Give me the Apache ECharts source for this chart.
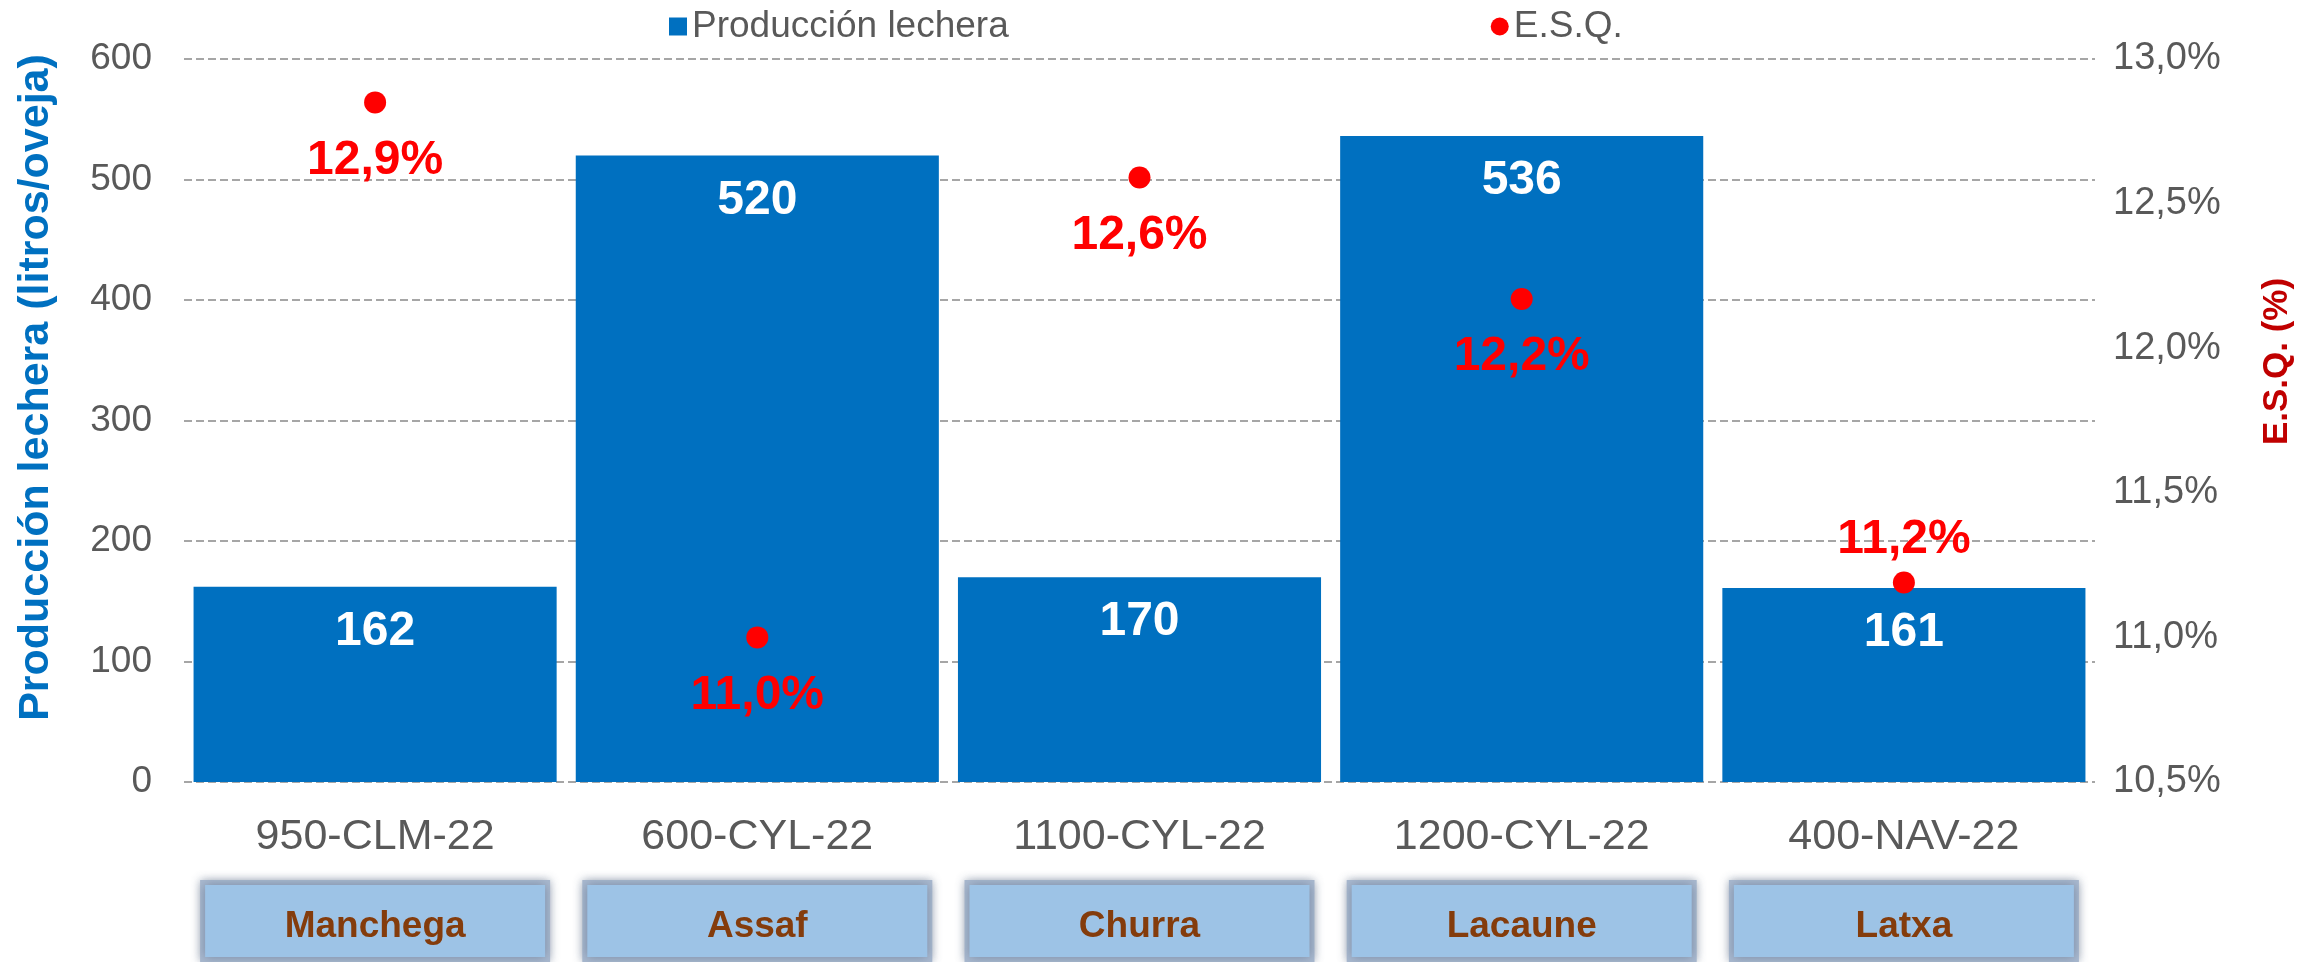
<!DOCTYPE html>
<html>
<head>
<meta charset="utf-8">
<script src="https://cdn.jsdelivr.net/npm/echarts@6/dist/echarts.min.js"></script>
<style>
  html, body { margin: 0; padding: 0; background: #fff; }
  #chart { width: 2305px; height: 962px; }
</style>
</head>
<body>
<div id="chart"></div>
<script>
// data
const farms = ['950-CLM-22', '600-CYL-22', '1100-CYL-22', '1200-CYL-22', '400-NAV-22']
const breeds = ['Manchega', 'Assaf', 'Churra', 'Lacaune', 'Latxa']
const milk = [162, 520, 170, 536, 161]
const esq = [12.85, 11.0, 12.59, 12.17, 11.19]
const esqLabels = ['12,9%', '11,0%', '12,6%', '12,2%', '11,2%']
const esqLabelSide = ['bottom', 'bottom', 'bottom', 'bottom', 'top']

const font = 'Liberation Sans, Arial, sans-serif'
const grey = '#595959'

const chart = echarts.init(document.getElementById('chart'), null, { renderer: 'canvas' })

const pct = (v) => v.toFixed(1).replace('.', ',') + '%'

const option = {
  backgroundColor: '#fff',
  textStyle: { fontFamily: font },
  animation: false,
  legend: {
    left: 664,
    top: 3,
    itemGap: 482,
    itemWidth: 18,
    itemHeight: 18,
    textStyle: { color: grey, fontSize: 37, fontFamily: font },
    data: [
      { name: 'Producción lechera', icon: 'rect' },
      { name: 'E.S.Q.', icon: 'circle' },
    ],
  },
  grid: { left: 184, right: 210, top: 59, bottom: 176 },
  xAxis: [
    {
      type: 'category',
      data: farms,
      axisLine: { show: false },
      axisTick: { show: false },
      axisLabel: { color: grey, fontSize: 43, margin: 34, fontFamily: font },
    },
    {
      type: 'category',
      data: breeds,
      position: 'bottom',
      offset: 103,
      axisLine: { show: false },
      axisTick: { show: false },
      axisLabel: {
        margin: 0,
        verticalAlign: 'top',
        color: '#843C0C',
        fontSize: 37,
        fontWeight: 'bold',
        fontFamily: font,
        backgroundColor: '#9DC3E6',
        borderColor: '#A9B9CF',
        borderWidth: 5,
        shadowColor: 'rgba(60,80,110,0.45)',
        shadowBlur: 10,
        width: 340,
        height: 60,
        lineHeight: 60,
        padding: [12, 0, 0, 0],
        align: 'center',
      },
    },
  ],
  yAxis: [
    {
      type: 'value',
      min: 0,
      max: 600,
      interval: 100,
      name: 'Producción lechera (litros/oveja)',
      nameLocation: 'middle',
      nameGap: 126,
      nameTextStyle: {
        color: '#0070C0',
        fontSize: 43,
        fontWeight: 'bold',
        fontFamily: font,
        padding: [0, 0, 0, 66],
      },
      axisLine: { show: false },
      axisTick: { show: false },
      axisLabel: { color: grey, fontSize: 37, margin: 32, fontFamily: font },
      splitLine: { lineStyle: { color: '#A6A6A6', type: 'dashed', width: 2 } },
    },
    {
      type: 'value',
      min: 10.5,
      max: 13,
      interval: 0.5,
      position: 'right',
      name: 'E.S.Q. (%)',
      nameLocation: 'middle',
      nameGap: 165,
      nameRotate: 90,
      nameTextStyle: {
        color: '#C00000',
        fontSize: 35,
        fontWeight: 'bold',
        fontFamily: font,
        padding: [0, 0, 0, 118],
      },
      axisLine: { show: false },
      axisTick: { show: false },
      axisLabel: { color: grey, fontSize: 38, margin: 18, formatter: pct, fontFamily: font },
      splitLine: { show: false },
    },
  ],
  series: [
    {
      name: 'Producción lechera',
      type: 'bar',
      data: milk,
      barCategoryGap: '5%',
      itemStyle: { color: '#0070C0' },
      label: {
        show: true,
        position: 'insideTop',
        distance: 21,
        color: '#fff',
        fontSize: 48,
        fontWeight: 'bold',
        fontFamily: font,
      },
    },
    {
      name: 'E.S.Q.',
      type: 'scatter',
      yAxisIndex: 1,
      symbol: 'circle',
      symbolSize: 22,
      itemStyle: { color: '#FF0000', opacity: 1 },
      data: esq.map((v, i) => ({
        value: v,
        label: {
          position: esqLabelSide[i],
          distance: esqLabelSide[i] === 'top' ? 8 : 23,
          formatter: esqLabels[i],
        },
      })),
      label: {
        show: true,
        color: '#FF0000',
        fontSize: 48,
        fontWeight: 'bold',
        fontFamily: font,
      },
    },
  ],
}

chart.setOption(option)
</script>
</body>
</html>
